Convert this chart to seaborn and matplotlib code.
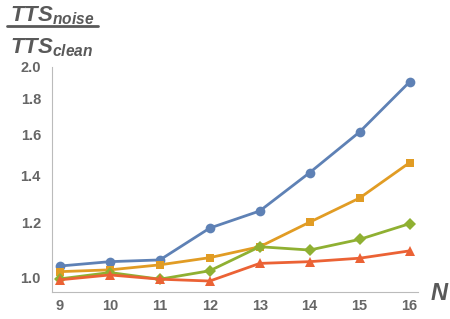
import numpy as np
import pandas as pd
import matplotlib
matplotlib.use("Agg")
import matplotlib.pyplot as plt
import matplotlib.ticker as mticker
import seaborn as sns

# Data
n_values = [9, 10, 11, 12, 13, 14, 15, 16]
series_names = ["s1", "s2", "s3", "s4"]
blue_vals = [1.039, 1.054, 1.060, 1.177, 1.245, 1.412, 1.614, 1.902]
orange_vals = [1.020, 1.026, 1.043, 1.068, 1.107, 1.200, 1.299, 1.459]
green_vals = [0.996, 1.017, 0.995, 1.023, 1.107, 1.095, 1.134, 1.194]
red_vals = [0.993, 1.009, 0.995, 0.989, 1.048, 1.054, 1.066, 1.092]
y_ticks = [1.0, 1.2, 1.4, 1.6, 1.8, 2.0]

colors = ["#5E81B5", "#E19C24", "#8FB032", "#EB6235"]
markers = ["o", "s", "D", "^"]
msizes = [7, 6, 6, 7]

df = pd.DataFrame({
    "N": n_values * 4,
    "ratio": blue_vals + orange_vals + green_vals + red_vals,
    "series": [s for s in series_names for _ in n_values],
})

sns.set_style("white")
plt.rcParams["mathtext.fontset"] = "custom"
plt.rcParams["mathtext.it"] = "Liberation Sans:italic:bold"
plt.rcParams["mathtext.rm"] = "Liberation Sans:bold"

fig = plt.figure(figsize=(4.5, 3.19), dpi=100)
ax = fig.add_axes([52 / 450, 27 / 319, (418 - 52) / 450, (292 - 66.7) / 319])

for name, c, m, ms in zip(series_names, colors, markers, msizes):
    sub = df[df["series"] == name]
    sns.lineplot(data=sub, x="N", y="ratio", ax=ax, color=c, marker=m,
                 markersize=ms, markeredgewidth=0, linewidth=2, legend=False)

ax.set_yscale("log")
ax.set_xlim(8.84, 16.17)
ax.set_ylim(0.954, 2.0)

ax.yaxis.set_major_locator(mticker.FixedLocator(y_ticks))
ax.yaxis.set_major_formatter(mticker.FixedFormatter([f"{v:.1f}" for v in y_ticks]))
ax.yaxis.set_minor_locator(mticker.FixedLocator(np.arange(0.95, 2.0, 0.05)))
ax.yaxis.set_minor_formatter(mticker.NullFormatter())
ax.xaxis.set_major_locator(mticker.FixedLocator(n_values))
ax.xaxis.set_minor_locator(mticker.MultipleLocator(0.2))

ax.set_xlabel("")
ax.set_ylabel("")
for side in ["top", "right"]:
    ax.spines[side].set_visible(False)
for side in ["left", "bottom"]:
    ax.spines[side].set_color("#bbbbbb")
    ax.spines[side].set_linewidth(0.8)

ax.tick_params(axis="both", which="major", direction="in", length=4, width=0.8,
               color="#bbbbbb", labelsize=10.5, labelcolor="#666666")
ax.tick_params(axis="both", which="minor", direction="in", length=2, width=0.6,
               color="#cccccc")
ax.tick_params(axis="y", which="major", pad=8)
ax.tick_params(axis="x", which="major", pad=5)
for lab in ax.get_xticklabels() + ax.get_yticklabels():
    lab.set_fontweight("bold")
    lab.set_family("Liberation Sans")

# axis labels
txt_color = "#595959"
fig.text(10 / 450, 1 - 21 / 319, r"$TTS_{noise}$", fontsize=16, color=txt_color,
         va="baseline", ha="left")
fig.add_artist(plt.Line2D([7 / 450, 98 / 450], [1 - 25.5 / 319, 1 - 25.5 / 319],
                          color=txt_color, linewidth=2, transform=fig.transFigure))
fig.text(10 / 450, 1 - 53.5 / 319, r"$TTS_{clean}$", fontsize=16, color=txt_color,
         va="baseline", ha="left")
fig.text(431 / 450, 1 - 300 / 319, "N", fontsize=17, color=txt_color,
         fontweight="bold", fontstyle="italic", family="Liberation Sans",
         va="baseline", ha="left")

fig.savefig("out.png", dpi=100)
